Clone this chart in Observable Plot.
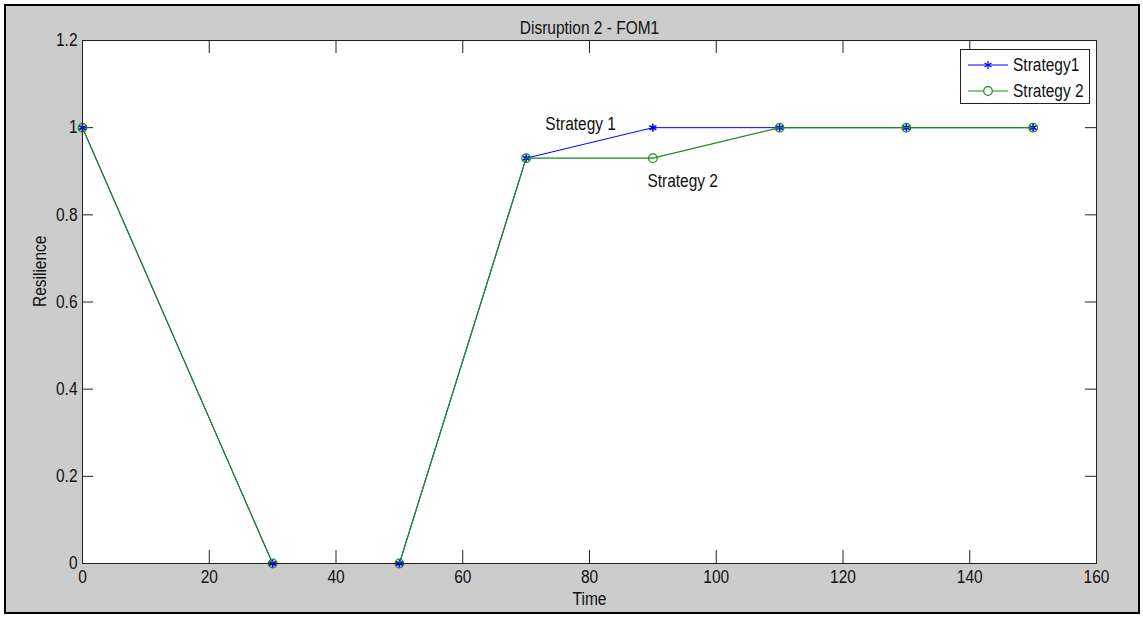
<!DOCTYPE html>
<html><head><meta charset="utf-8">
<script src="https://cdn.jsdelivr.net/npm/d3@7"></script>
<script src="https://cdn.jsdelivr.net/npm/@observablehq/plot@0.6"></script>
<style>
body{margin:0;background:#fff;}
#wrap{position:relative;width:1143px;height:617px;overflow:hidden;font-family:Arial,"Liberation Sans",sans-serif;}
#chart svg{display:block;}
#border{position:absolute;left:4px;top:4px;width:1136px;height:610px;box-sizing:border-box;border:2.5px solid #000;box-shadow:0 0 0 6px #fff;pointer-events:none;}
#legend{position:absolute;left:960px;top:49px;width:130px;height:55px;box-sizing:border-box;border:1px solid #222;background:#fff;font-size:18px;color:#111;}
#legend .row{position:absolute;left:7px;height:20px;display:flex;align-items:center;white-space:nowrap;}
#legend .row svg{margin-right:5px;flex:none;}
#legend .row span{display:inline-block;transform:scaleX(0.86);transform-origin:left center;}
</style></head><body>
<div id="wrap"><div id="chart"></div><div id="legend"></div><div id="border"></div></div>
<script>
const time = [0, 30, 50, 70, 90, 110, 130, 150];
const strategy1 = [1, 0, 0, 0.93, 1, 1, 1, 1];
const strategy2 = [1, 0, 0, 0.93, 0.93, 1, 1, 1];
const seriesNames = ["Strategy1", "Strategy 2"];
const seriesColors = ["#0000ff", "#1a8c1a"];
const xTicks = [0, 20, 40, 60, 80, 100, 120, 140, 160];
const yTicks = [0, 0.2, 0.4, 0.6, 0.8, 1, 1.2];
const yTickLabels = ["0", "0.2", "0.4", "0.6", "0.8", "1", "1.2"];
const annotationText = ["Strategy 1", "Strategy 2"];
const annotationX = [78.6, 94.7];
const annotationY = [1.007, 0.878];
const titleText = "Disruption 2 - FOM1";
const xLabel = "Time";
const yLabel = "Resilience";

const FS = 18, SQUEEZE = 0.86;
const s1 = time.map((t, i) => ({x: t, y: strategy1[i]}));
const s2 = time.map((t, i) => ({x: t, y: strategy2[i]}));
const ann = annotationText.map((t, i) => ({x: annotationX[i], y: annotationY[i], text: t}));
const xDomain = [xTicks[0], xTicks[xTicks.length - 1]];
const yDomain = [yTicks[0], yTicks[yTicks.length - 1]];
const xTickLen = 0.03, yTickLen = 1.74;

const plot = Plot.plot({
  width: 1143, height: 617,
  marginLeft: 82, marginRight: 47, marginTop: 40, marginBottom: 54,
  style: {background: "#cccccc", fontFamily: "Arial, 'Liberation Sans', sans-serif", fontSize: FS + "px", color: "#111"},
  x: {domain: xDomain, label: null},
  y: {domain: yDomain, label: null},
  marks: [
    Plot.frame({fill: "white"}),
    Plot.ruleX(xTicks, {x: d => d, y1: yDomain[0], y2: yDomain[0] + xTickLen, stroke: "#222"}),
    Plot.ruleX(xTicks, {x: d => d, y1: yDomain[1], y2: yDomain[1] - xTickLen, stroke: "#222"}),
    Plot.ruleY(yTicks, {y: d => d, x1: xDomain[0], x2: xDomain[0] + yTickLen, stroke: "#222"}),
    Plot.ruleY(yTicks, {y: d => d, x1: xDomain[1], x2: xDomain[1] - yTickLen, stroke: "#222"}),
    Plot.axisX({ticks: xTicks, tickSize: 0, tickPadding: 7, label: null, fontSize: FS, tickFormat: d => String(d)}),
    Plot.axisY({ticks: yTicks, tickSize: 0, tickPadding: 5, label: null, fontSize: FS, tickFormat: d => yTickLabels[yTicks.indexOf(d)]}),
    Plot.line(s1, {x: "x", y: "y", stroke: seriesColors[0], strokeWidth: 1}),
    Plot.dot(s1, {x: "x", y: "y", symbol: "asterisk", r: 3.8, stroke: seriesColors[0], strokeWidth: 1.6}),
    Plot.line(s2, {x: "x", y: "y", stroke: seriesColors[1], strokeWidth: 1.2}),
    Plot.dot(s2, {x: "x", y: "y", symbol: "circle", r: 4.3, stroke: seriesColors[1], fill: "none", strokeWidth: 1.2}),
    Plot.text(ann, {x: "x", y: "y", text: "text", fill: "#111", fontSize: FS}),
    Plot.frame({stroke: "#222"}),
    Plot.text([titleText], {frameAnchor: "top", dy: -19, fill: "#111", fontSize: FS}),
    Plot.text([xLabel], {frameAnchor: "bottom", dy: 41, fill: "#111", fontSize: FS}),
    Plot.text([yLabel], {frameAnchor: "left", dx: -42, dy: 5, rotate: -90, fill: "#111", fontSize: FS})
  ]
});
document.getElementById("chart").append(plot);

// squeeze glyphs horizontally to match the reference's tall, narrow lettering
plot.querySelectorAll("text").forEach(t => {
  const len = t.getComputedTextLength();
  if (len > 0) {
    t.setAttribute("textLength", (len * SQUEEZE).toFixed(2));
    t.setAttribute("lengthAdjust", "spacingAndGlyphs");
  }
});

// legend
const legend = document.getElementById("legend");
const symbols = ["asterisk", "circle"];
const rowTops = [5, 31];
seriesNames.forEach((name, i) => {
  const row = document.createElement("div");
  row.className = "row";
  row.style.top = rowTops[i] + "px";
  const ns = "http://www.w3.org/2000/svg";
  const svg = document.createElementNS(ns, "svg");
  svg.setAttribute("width", 40); svg.setAttribute("height", 20);
  const line = document.createElementNS(ns, "line");
  line.setAttribute("x1", 0); line.setAttribute("x2", 40);
  line.setAttribute("y1", 10); line.setAttribute("y2", 10);
  line.setAttribute("stroke", seriesColors[i]); line.setAttribute("stroke-width", 1.1);
  svg.append(line);
  const path = document.createElementNS(ns, "path");
  const sym = symbols[i] === "asterisk" ? d3.symbolAsterisk : d3.symbolCircle;
  const r = symbols[i] === "asterisk" ? 3.8 : 4.3;
  path.setAttribute("d", d3.symbol(sym, Math.PI * r * r)());
  path.setAttribute("transform", "translate(20,10)");
  path.setAttribute("stroke", seriesColors[i]);
  path.setAttribute("fill", symbols[i] === "circle" ? "white" : "none");
  path.setAttribute("stroke-width", 1.2);
  svg.append(path);
  row.append(svg);
  const span = document.createElement("span");
  span.textContent = name;
  row.append(span);
  legend.append(row);
});
</script>
</body></html>
